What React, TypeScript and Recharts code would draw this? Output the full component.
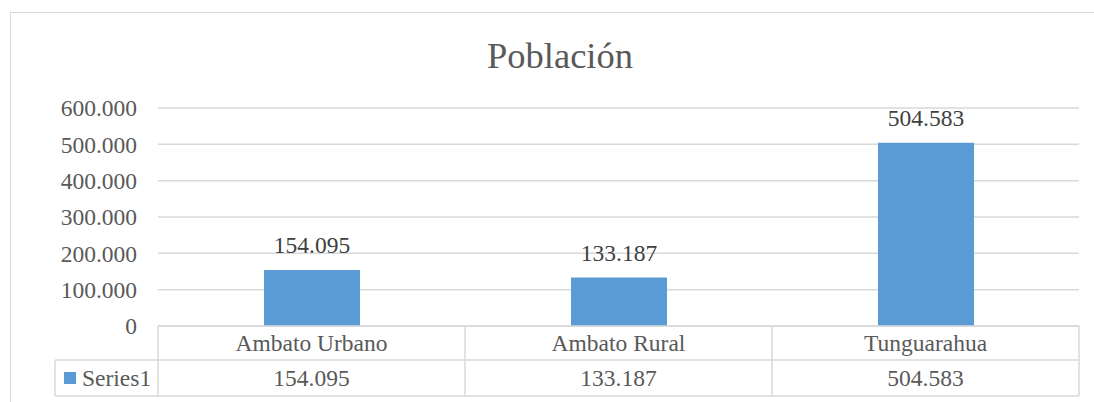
import { BarChart, Bar, XAxis, YAxis, CartesianGrid, LabelList } from "recharts"

const categories = ["Ambato Urbano", "Ambato Rural", "Tunguarahua"]
const poblacion = [154095, 133187, 504583]
const yTicks = [0, 100000, 200000, 300000, 400000, 500000, 600000]
const seriesName = "Series1"
const title = "Población"

const FONT = "Liberation Serif, DejaVu Serif, serif"
const GRID = "#d9d9d9"
const TEXT = "#595959"
const BLUE = "#5B9BD5"

function fmt(v: number) {
  return String(v).replace(/\B(?=(\d{3})+(?!\d))/g, ".")
}

const data = categories.map((name, i) => ({ name, value: poblacion[i] }))

function TableTick(props: any) {
  const { x, y, payload, index, width, visibleTicksCount } = props
  const half = width && visibleTicksCount ? width / visibleTicksCount / 2 : payload.offset || 150
  const left = x - half
  const right = x + half
  const rowMid = y + 34
  const bottom = y + 70
  return (
    <g>
      <line x1={right} y1={y} x2={right} y2={bottom} stroke={GRID} strokeWidth={1.5} />
      <line x1={left} y1={rowMid} x2={right} y2={rowMid} stroke={GRID} strokeWidth={1.5} />
      <line x1={left} y1={bottom} x2={right} y2={bottom} stroke={GRID} strokeWidth={1.5} />
      {index === 0 && (
        <g>
          <line x1={left} y1={y} x2={left} y2={bottom} stroke={GRID} strokeWidth={1.5} />
          <line x1={55} y1={rowMid} x2={left} y2={rowMid} stroke={GRID} strokeWidth={1.5} />
          <line x1={55} y1={bottom} x2={left} y2={bottom} stroke={GRID} strokeWidth={1.5} />
          <line x1={55} y1={rowMid} x2={55} y2={bottom} stroke={GRID} strokeWidth={1.5} />
          <rect x={64} y={rowMid + 12} width={12} height={12} fill={BLUE} />
          <text x={82} y={rowMid + 18} dy="0.35em" style={{ fontFamily: FONT, fontSize: 23.5 }} fill={TEXT}>
            {seriesName}
          </text>
        </g>
      )}
      <text x={x} y={y + 17} dy="0.35em" textAnchor="middle" style={{ fontFamily: FONT, fontSize: 23.5 }} fill={TEXT}>
        {payload.value}
      </text>
      <text x={x} y={rowMid + 18} dy="0.35em" textAnchor="middle" style={{ fontFamily: FONT, fontSize: 23.5 }} fill={TEXT}>
        {fmt(poblacion[index])}
      </text>
    </g>
  )
}

export default function App() {
  return (
    <div style={{ position: "fixed", left: 0, top: 0, width: 1094, height: 402, overflow: "hidden", background: "#fff", fontFamily: FONT }}>
      <div
        style={{
          position: "absolute",
          left: 10,
          top: 12,
          width: 1200,
          height: 500,
          border: `1.5px solid ${GRID}`
        }}
      />
      <div
        style={{
          position: "absolute",
          left: 0,
          width: 1120,
          top: 34,
          textAlign: "center",
          fontFamily: FONT,
          fontSize: 36.5,
          color: TEXT,
          lineHeight: "44px"
        }}
      >
        {title}
      </div>
      <div style={{ position: "absolute", left: 0, top: 0 }}>
        <BarChart width={1094} height={402} data={data} margin={{ top: 108, right: 15, bottom: 6, left: 0 }} style={{ fontFamily: FONT }}>
          <CartesianGrid vertical={false} stroke={GRID} strokeWidth={1.5} />
          <XAxis
            dataKey="name"
            height={70}
            axisLine={{ stroke: GRID, strokeWidth: 1.5 }}
            tickLine={false}
            tickSize={0}
            tickMargin={0}
            interval={0}
            tick={<TableTick />}
          />
          <YAxis
            width={158}
            domain={[0, 600000]}
            ticks={yTicks}
            axisLine={false}
            tickLine={false}
            tickSize={0}
            tickMargin={21}
            tickFormatter={(v: number) => fmt(v)}
            tick={{ fontFamily: FONT, fontSize: 23.5, fill: TEXT }}
          />
          <Bar dataKey="value" fill={BLUE} barSize={96} isAnimationActive={false}>
            <LabelList
              dataKey="value"
              position="top"
              offset={17}
              formatter={(v: any) => fmt(Number(v))}
              style={{ fontFamily: FONT, fontSize: 23.5, fill: "#404040" }}
            />
          </Bar>
        </BarChart>
      </div>
    </div>
  )
}
